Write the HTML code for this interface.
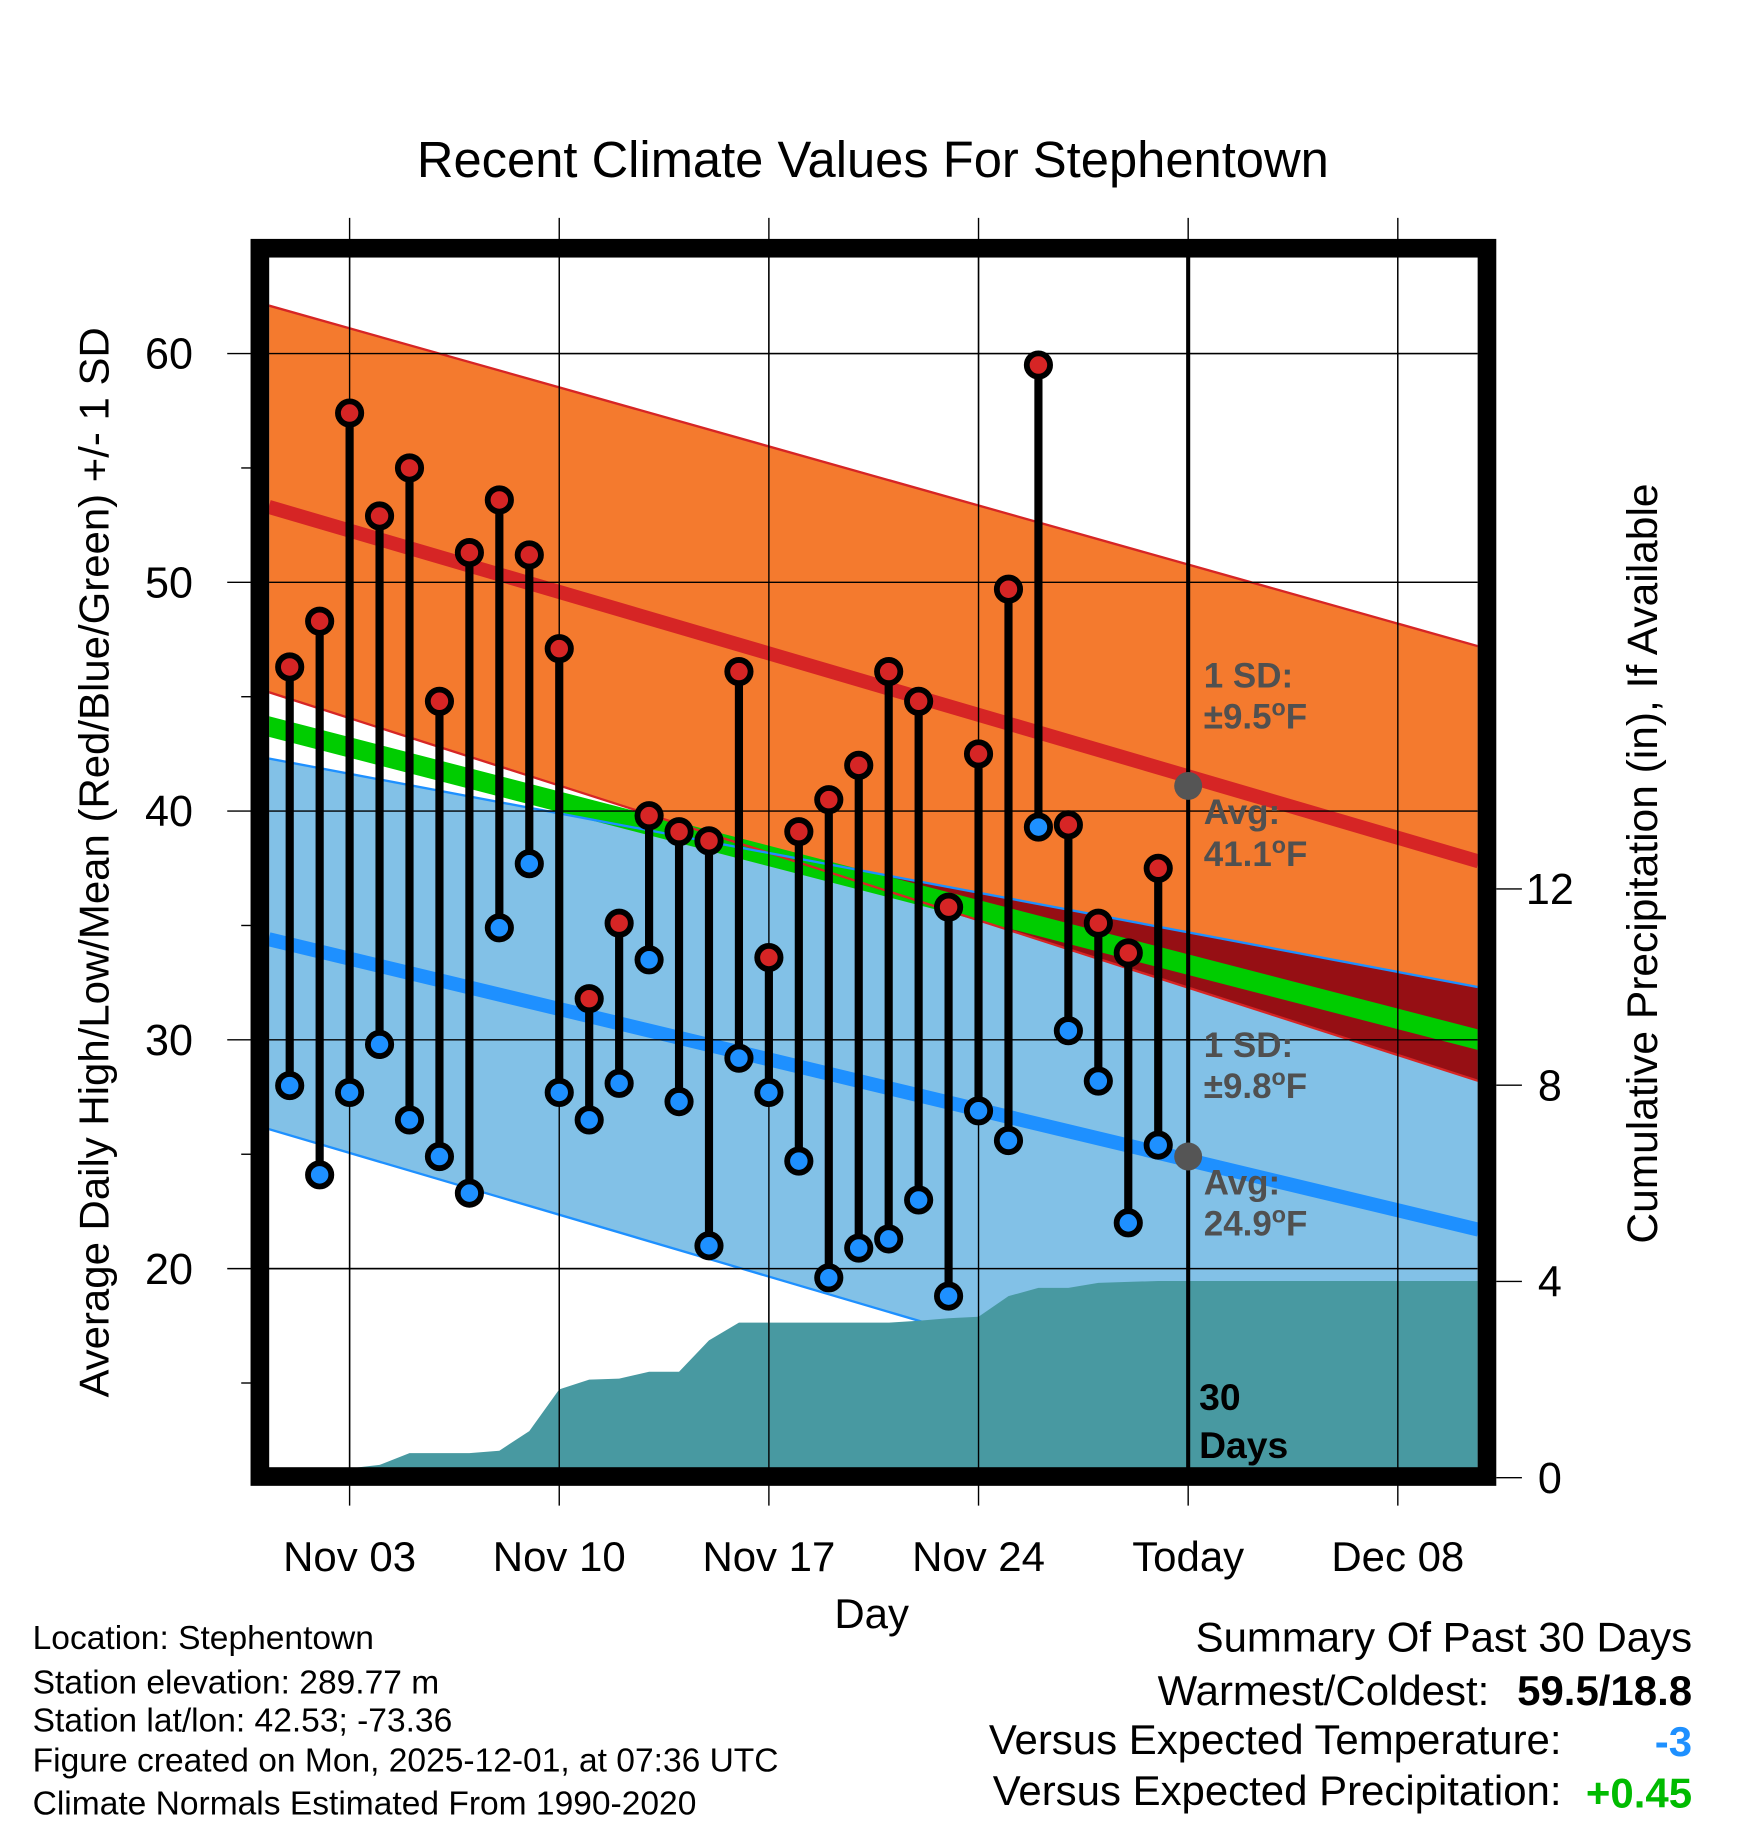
<!DOCTYPE html>
<html><head><meta charset="utf-8"><style>
html,body{margin:0;padding:0;background:#fff}
svg{display:block}
text{font-family:"Liberation Sans",Arial,sans-serif}
</style></head><body>
<svg id="chart" xmlns="http://www.w3.org/2000/svg" width="1748" height="1828" viewBox="0 0 1500 1568.6" preserveAspectRatio="none">
<defs><clipPath id="plotclip"><rect x="231" y="220" width="1037" height="1040"/></clipPath></defs>
<text x="749" y="152" font-size="43.5" text-anchor="middle">Recent Climate Values For Stephentown</text>
<g id="grid"></g>
<g id="plot" clip-path="url(#plotclip)"></g>
<rect x="223" y="213" width="1053" height="1054" fill="none" stroke="#000" stroke-width="16"/>
<g id="axes"></g>
<text x="748" y="1397" font-size="36" text-anchor="middle">Day</text>
<text transform="translate(93,740) rotate(-90)" font-size="36" text-anchor="middle">Average Daily High/Low/Mean (Red/Blue/Green) +/- 1 SD</text>
<text transform="translate(1422,741) rotate(-90)" font-size="36.5" text-anchor="middle">Cumulative Precipitation (in), If Available</text>
<g font-size="28.8">
<text x="28" y="1415">Location: Stephentown</text>
<text x="28" y="1453">Station elevation: 289.77 m</text>
<text x="28" y="1486">Station lat/lon: 42.53; -73.36</text>
<text x="28" y="1520">Figure created on Mon, 2025-12-01, at 07:36 UTC</text>
<text x="28" y="1557">Climate Normals Estimated From 1990-2020</text>
</g>
<g font-size="36">
<text x="1452" y="1417" text-anchor="end">Summary Of Past 30 Days</text>
<text x="1278" y="1463" text-anchor="end">Warmest/Coldest:</text>
<text x="1452" y="1463" text-anchor="end" font-weight="bold">59.5/18.8</text>
<text x="1340" y="1505" text-anchor="end">Versus Expected Temperature:</text>
<text x="1452" y="1507" text-anchor="end" font-weight="bold" fill="#1e90ff">-3</text>
<text x="1340" y="1549" text-anchor="end">Versus Expected Precipitation:</text>
<text x="1452" y="1551" text-anchor="end" font-weight="bold" fill="#00bb00">+0.45</text>
</g>
</svg>
<script>
// ---- data ----
const dayIndex = [1,2,3,4,5,6,7,8,9,10,11,12,13,14,15,16,17,18,19,20,21,22,23,24,25,26,27,28,29,30];
const highs = [46.3,48.3,57.4,52.9,55.0,44.8,51.3,53.6,51.2,47.1,31.8,35.1,39.8,39.1,38.7,46.1,33.6,39.1,40.5,42.0,46.1,44.8,35.8,42.5,49.7,59.5,39.4,35.1,33.8,37.5];
const lows = [28.0,24.1,27.7,29.8,26.5,24.9,23.3,34.9,37.7,27.7,26.5,28.1,33.5,27.3,21.0,29.2,27.7,24.7,19.6,20.9,21.3,23.0,18.8,26.9,25.6,39.3,30.4,28.2,22.0,25.4];
const precip = [0,0,0.19,0.26,0.5,0.5,0.5,0.55,0.95,1.8,2.0,2.02,2.16,2.16,2.8,3.16,3.16,3.16,3.16,3.16,3.16,3.2,3.25,3.28,3.7,3.87,3.87,3.97,3.99,4.01];
const normDays = [0.3, 40.7];
const normHighAvg = [53.3, 37.8];
const normHighUp = [62.1, 47.2];
const normHighLo = [45.2, 28.2];
const normLowAvg = [34.4, 21.7];
const normLowUp = [42.3, 32.3];
const normLowLo = [26.1, 10.5];
const normMean = [43.7, 30.0];
const xTickDays = [3,10,17,24,31,38];
const xTickLabels = ["Nov 03","Nov 10","Nov 17","Nov 24","Today","Dec 08"];
const yTicks = [20,30,40,50,60];
const yMinor = [15,25,35,45,55];
const y2Ticks = [0,4,8,12];
const todayDay = 31;
const todayHighAvg = 41.1, todayLowAvg = 24.9;

// ---- scales ----
const X = d => 300 + (d - 3) * 25.7;
const Y = t => 696 - (t - 40) * 19.63;
const Y2 = p => 1268 - p * 42.1;
const NS = "http://www.w3.org/2000/svg";
function mk(tag, attrs, parent){const e=document.createElementNS(NS,tag);for(const k in attrs)e.setAttribute(k,attrs[k]);parent.appendChild(e);return e;}
const plot=document.getElementById('plot'), grid=document.getElementById('grid'), axes=document.getElementById('axes');
const lerp=(arr,d)=>arr[0]+(arr[1]-arr[0])*(d-normDays[0])/(normDays[1]-normDays[0]);
function bandPts(up,lo){const a=normDays[0],b=normDays[1];return `${X(a)},${Y(lerp(up,a))} ${X(b)},${Y(lerp(up,b))} ${X(b)},${Y(lerp(lo,b))} ${X(a)},${Y(lerp(lo,a))}`;}

let e;
e=mk('polygon',{points:bandPts(normHighUp,normHighLo),fill:'#f47a2e'},plot);

e=mk('polygon',{points:bandPts(normLowUp,normLowLo),fill:'#82c1e7'},plot);

{const n=120;const up=[],lo=[];
 for(let i=0;i<=n;i++){const d=normDays[0]+(normDays[1]-normDays[0])*i/n;const t=lerp(normLowUp,d),b=lerp(normHighLo,d);
  if(t>b){up.push(`${X(d)},${Y(t)}`);lo.unshift(`${X(d)},${Y(b)}`);}}
 e=mk('polygon',{points:up.concat(lo).join(' '),fill:'#960f14'},plot);
 }
e=mk('polygon',{points:bandPts(normMean.map(v=>v+0.45),normMean.map(v=>v-0.45)),fill:'#00cc00'},plot);

function line(arr,color,w,name){const a=normDays[0],b=normDays[1];const l=mk('line',{x1:X(a),y1:Y(lerp(arr,a)),x2:X(b),y2:Y(lerp(arr,b)),stroke:color,'stroke-width':w},plot);
 }
line(normHighUp,'#d62525',2,'high-upper-sd-line');line(normHighLo,'#d62525',2,'high-lower-sd-line');
line(normLowUp,'#1e90ff',2,'low-upper-sd-line');line(normLowLo,'#1e90ff',2,'low-lower-sd-line');
line(normHighAvg,'#d62525',12,'high-avg-line');line(normLowAvg,'#1e90ff',12,'low-avg-line');
{let pts=[`${X(dayIndex[0])},${Y2(0)}`];dayIndex.forEach((d,i)=>pts.push(`${X(d)},${Y2(precip[i])}`));
 const last=precip[precip.length-1];pts.push(`${X(normDays[1])},${Y2(last)}`);pts.push(`${X(normDays[1])},${Y2(-1)}`);pts.push(`${X(dayIndex[0])},${Y2(-1)}`);
 e=mk('polygon',{points:pts.join(' '),fill:'#4899a1'},plot);
 }
// grid (outside extensions + inside over fills)
yTicks.forEach(t=>{const g=mk('line',{x1:195,x2:1268,y1:Y(t),y2:Y(t),stroke:'#000','stroke-width':1.2},grid);
 
 const g2=mk('line',{x1:195,x2:1268,y1:Y(t),y2:Y(t),stroke:'#000','stroke-width':1.2},plot);
 });
xTickDays.forEach(d=>{const g=mk('line',{x1:X(d),x2:X(d),y1:187,y2:1292,stroke:'#000','stroke-width':1.2},grid);
 
 const g2=mk('line',{x1:X(d),x2:X(d),y1:187,y2:1292,stroke:'#000','stroke-width':1.2},plot);
 });
e=mk('line',{x1:X(todayDay),x2:X(todayDay),y1:220,y2:1260,stroke:'#000','stroke-width':3.5},plot);

dayIndex.forEach((d,i)=>{const s=mk('line',{x1:X(d),x2:X(d),y1:Y(highs[i]),y2:Y(lows[i]),stroke:'#000','stroke-width':7},plot);
 });
dayIndex.forEach((d,i)=>{
 const h=mk('circle',{cx:X(d),cy:Y(highs[i]),r:10,fill:'#d62525',stroke:'#000','stroke-width':5},plot);
 
 const l=mk('circle',{cx:X(d),cy:Y(lows[i]),r:10,fill:'#1e90ff',stroke:'#000','stroke-width':5},plot);
 });
e=mk('circle',{cx:X(todayDay),cy:Y(todayHighAvg),r:12,fill:'#555'},plot);

e=mk('circle',{cx:X(todayDay),cy:Y(todayLowAvg),r:12,fill:'#555'},plot);

const ann=[["1 SD:",590,""],["\u00b19.5",625,"F"],["Avg:",707,""],["41.1",743,"F"],["1 SD:",907,""],["\u00b19.8",942,"F"],["Avg:",1025,""],["24.9",1060,"F"]];
ann.forEach(a=>{const t=mk('text',{x:1033,y:a[1],'font-size':30,'font-weight':'bold',fill:'#505050'},plot);
 t.appendChild(document.createTextNode(a[0]));
 if(a[2]){const s=mk('tspan',{dy:-11,'font-size':20},t);s.textContent='o';const f=mk('tspan',{dy:11},t);f.textContent=a[2];}
 });
[["30",1210],["Days",1251]].forEach(a=>{const t=mk('text',{x:1029,y:a[1],'font-size':32,'font-weight':'bold',fill:'#000'},plot);t.textContent=a[0];
 });
yTicks.forEach(t=>{const l=mk('text',{x:145,y:Y(t)+13,'font-size':37,'text-anchor':'middle'},axes);l.textContent=t;
 });
yMinor.forEach(t=>{const l=mk('line',{x1:207,x2:216,y1:Y(t),y2:Y(t),stroke:'#000','stroke-width':1.2},axes);
 });
xTickDays.forEach((d,i)=>{const l=mk('text',{x:X(d),y:1348,'font-size':36,'text-anchor':'middle'},axes);l.textContent=xTickLabels[i];
 });
y2Ticks.forEach(p=>{const k=mk('line',{x1:1284,x2:1306,y1:Y2(p),y2:Y2(p),stroke:'#000','stroke-width':1.2},axes);
 
 const l=mk('text',{x:1330,y:Y2(p)+13,'font-size':37,'text-anchor':'middle'},axes);l.textContent=p;
 });
</script>
</body></html>
